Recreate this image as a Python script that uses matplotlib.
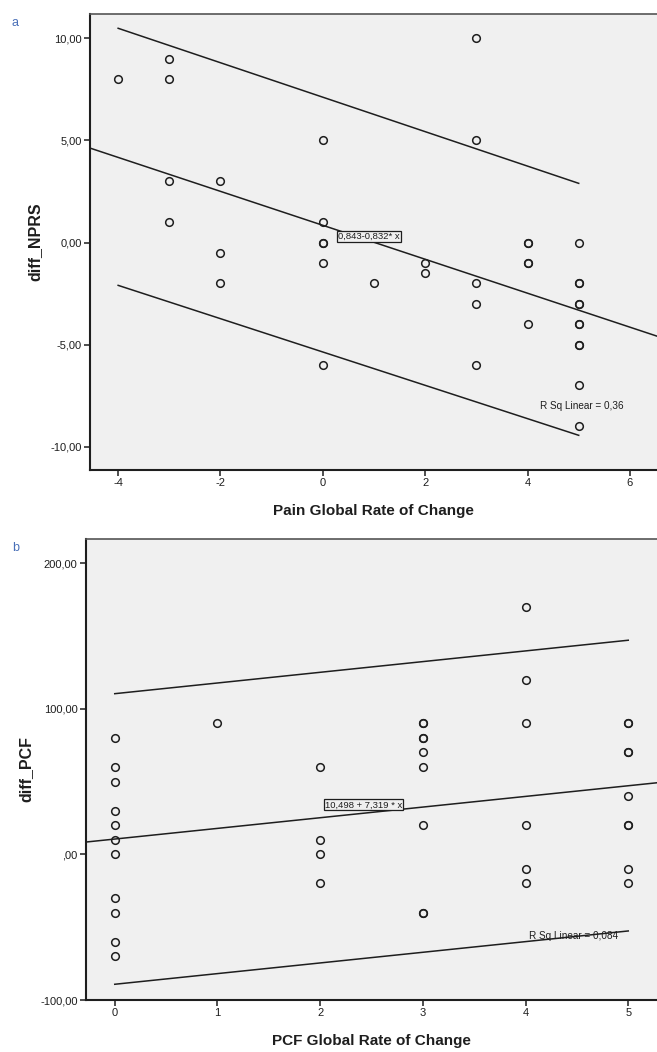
import matplotlib.pyplot as plt
import numpy as np

plt.rcParams['font.family'] = ['Liberation Sans', 'DejaVu Sans']
plt.rcParams['axes.unicode_minus'] = False

# panel a: pain
pain_x = [-4, -3, -3, -3, -3, -2, -2, -2,
          0, 0, 0, 0, 0, 0, 1, 2, 2,
          3, 3, 3, 3, 3, 4, 4, 4, 4, 4,
          5, 5, 5, 5, 5, 5, 5, 5, 5, 5, 5]
pain_y = [8, 9, 8, 3, 1, 3, -0.5, -2,
          5, 1, 0, 0, -1, -6, -2, -1, -1.5,
          10, 5, -2, -3, -6, 0, 0, -1, -1, -4,
          0, -2, -2, -3, -3, -4, -4, -5, -5, -7, -9]
pain_fit = (0.843, -0.832)          # intercept, slope (as printed on chart)
pain_band_x = [-4, 5]
pain_upper = [10.5, 2.9]
pain_lower = [-2.1, -9.45]
pain_yticks = [10, 5, 0, -5, -10]
pain_yticklabels = ['10,00', '5,00', '0,00', '-5,00', '-10,00']
pain_xticks = [-4, -2, 0, 2, 4, 6]

# panel b: PCF
pcf_x = [0, 0, 0, 0, 0, 0, 0, 0, 0, 0, 0,
         1,
         2, 2, 2, 2,
         3, 3, 3, 3, 3, 3, 3, 3, 3,
         4, 4, 4, 4, 4, 4,
         5, 5, 5, 5, 5, 5, 5, 5, 5]
pcf_y = [80, 60, 50, 30, 20, 10, 0, -30, -40, -60, -70,
         90,
         60, 10, 0, -20,
         90, 90, 80, 80, 70, 60, 20, -40, -40,
         170, 120, 90, 20, -10, -20,
         90, 90, 70, 70, 40, 20, 20, -10, -20]
pcf_fit = (10.498, 7.319)
pcf_band_x = [0, 5]
pcf_upper = [110.3, 147.0]
pcf_lower = [-89.2, -52.6]
pcf_yticks = [200, 100, 0, -100]
pcf_yticklabels = ['200,00', '100,00', ',00', '-100,00']
pcf_xticks = [0, 1, 2, 3, 4, 5]

W, H = 657, 1052
fig = plt.figure(figsize=(W / 100, H / 100), dpi=100)
fig.patch.set_facecolor('white')

INK = '#1e1e1e'


def style_axes(ax):
    ax.set_facecolor('#f0f0f0')
    ax.spines['right'].set_visible(False)
    ax.spines['top'].set_color('#555555')
    ax.spines['top'].set_linewidth(1.2)
    for s in ['left', 'bottom']:
        ax.spines[s].set_linewidth(1.5)
        ax.spines[s].set_color(INK)
    ax.tick_params(direction='out', length=4, width=1.1, labelsize=8,
                   colors=INK, pad=2)


def panel(ax, x, y, fit, band_x, upper, lower, xlim):
    ax.plot(x, y, 'o', ms=5.5, mfc='none', mec=INK, mew=1.1, zorder=3)
    xs = np.array(xlim)
    ax.plot(xs, fit[0] + fit[1] * xs, color=INK, lw=1.1)
    ax.plot(band_x, upper, color=INK, lw=1.1)
    ax.plot(band_x, lower, color=INK, lw=1.1)


# ---- a
ax1 = fig.add_axes([90 / W, 1 - 470 / H, 1 - 90 / W, (470 - 14) / H])
style_axes(ax1)
xlim_a = (-4.55, 6.53)
panel(ax1, pain_x, pain_y, pain_fit, pain_band_x, pain_upper, pain_lower, xlim_a)
ax1.set_xlim(*xlim_a)
ax1.set_ylim(-11.15, 11.2)
ax1.set_yticks(pain_yticks)
ax1.set_yticklabels(pain_yticklabels)
ax1.set_xticks(pain_xticks)
ax1.set_ylabel('diff_NPRS', fontsize=11.5, fontweight='bold', labelpad=6, color=INK)
ax1.set_xlabel('Pain Global Rate of Change', fontsize=11, fontweight='bold',
               labelpad=11, color=INK)
ax1.text(0.3, 0.3, '0,843-0,832* x', fontsize=6.8, va='center', ha='left', color=INK,
         bbox=dict(boxstyle='square,pad=0.1', fc='#f0f0f0', ec=INK, lw=0.9))
ax1.text(4.25, -8.0, 'R Sq Linear = 0,36', fontsize=7.2, va='center', ha='left',
         color=INK)
fig.text(12 / W, 1 - 23 / H, 'a', color='#4a70b8', fontsize=9, va='center')

# ---- b
ax2 = fig.add_axes([86 / W, 1 - 1000 / H, 1 - 86 / W, (1000 - 539) / H])
style_axes(ax2)
xlim_b = (-0.28, 5.28)
panel(ax2, pcf_x, pcf_y, pcf_fit, pcf_band_x, pcf_upper, pcf_lower, xlim_b)
ax2.set_xlim(*xlim_b)
ax2.set_ylim(-100, 216.5)
ax2.set_yticks(pcf_yticks)
ax2.set_yticklabels(pcf_yticklabels)
ax2.set_xticks(pcf_xticks)
ax2.set_ylabel('diff_PCF', fontsize=11.5, fontweight='bold', labelpad=5, color=INK)
ax2.set_xlabel('PCF Global Rate of Change', fontsize=11, fontweight='bold',
               labelpad=11, color=INK)
ax2.text(2.05, 34, '10,498 + 7,319 * x', fontsize=6.8, va='center', ha='left', color=INK,
         bbox=dict(boxstyle='square,pad=0.1', fc='#f0f0f0', ec=INK, lw=0.9))
ax2.text(4.03, -56, 'R Sq Linear = 0,084', fontsize=7.2, va='center', ha='left',
         color=INK)
fig.text(12 / W, 1 - 548 / H, 'b', color='#4a70b8', fontsize=9, va='center')

fig.savefig('out.png', dpi=100)
